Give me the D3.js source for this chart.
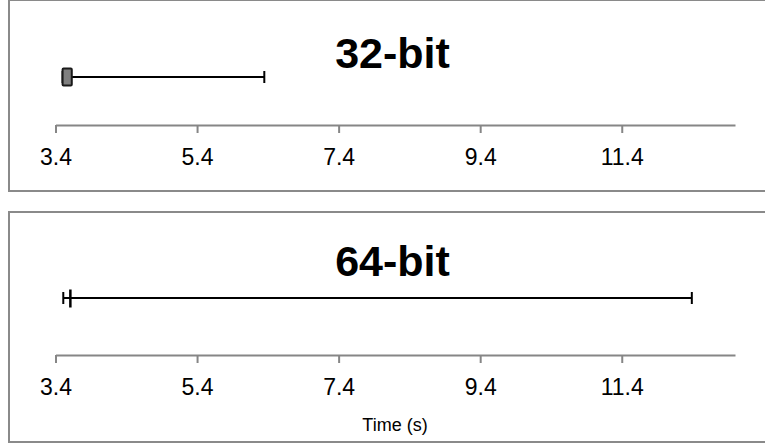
<!DOCTYPE html>
<html>
<head>
<meta charset="utf-8">
<script src="https://cdn.jsdelivr.net/npm/d3@7"></script>
<style>
  body { margin: 0; background: #fff; }
  text { font-family: "Liberation Sans", Arial, sans-serif; fill: #000; }
</style>
</head>
<body>
<div id="chart"></div>
<script>
// values (seconds)
const builds = ["32-bit", "64-bit"];
const lowWhisker = [3.50, 3.51];
const boxLow = [3.50, 3.61];
const boxHigh = [3.63, 3.61];
const highWhisker = [6.35, 12.39];
const tickValues = [3.4, 5.4, 7.4, 9.4, 11.4];
const axisMin = 3.4, axisMax = 13.0;

let width = 765, height = 444;

// each panel is its own little chart frame
const panels = [
  { top: 0,   bottom: 191, title: 68,  whisker: 77,  axis: 125, xTitle: null },
  { top: 212, bottom: 442, title: 276, whisker: 298, axis: 355, xTitle: "Time (s)" }
];

const svg = d3.select("#chart")
  .append("svg")
  .attr("width", width)
  .attr("height", height);

let x = d3.scaleLinear()
  .domain([axisMin, axisMax])
  .range([55.5, 735]);

builds.forEach((name, i) => {
  let p = panels[i];
  let g = svg.append("g");

  // frame - right edge runs off the page
  g.append("rect")
    .attr("x", 9)
    .attr("y", p.top)
    .attr("width", 800)
    .attr("height", p.bottom - p.top)
    .attr("fill", "none")
    .attr("stroke", "#8a8a8a")
    .attr("stroke-width", 2);

  g.append("text")
    .text(name)
    .attr("x", 392.5)
    .attr("y", p.title)
    .attr("text-anchor", "middle")
    .style("font-size", "43px")
    .style("font-weight", "bold");

  // axis
  let ax = g.append("g")
    .attr("transform", `translate(0,${p.axis})`)
    .call(d3.axisBottom(x)
      .tickValues(tickValues)
      .tickFormat(d3.format(".1f"))
      .tickSizeOuter(0)
      .tickSizeInner(8)
      .tickPadding(16));
  ax.select(".domain").attr("stroke", "#868686").attr("stroke-width", 2);
  ax.selectAll(".tick line").attr("stroke", "#868686").attr("stroke-width", 2);
  ax.selectAll(".tick text")
    .attr("fill", "#000")
    .style("font-size", "23px")
    .style("font-family", "'Liberation Sans', Arial, sans-serif");

  if (p.xTitle) {
    g.append("text")
      .text(p.xTitle)
      .attr("x", 395)
      .attr("y", 431)
      .attr("text-anchor", "middle")
      .style("font-size", "18px");
  }

  // whisker line
  let y = p.whisker;
  g.append("line")
    .attr("x1", x(lowWhisker[i]))
    .attr("x2", x(highWhisker[i]))
    .attr("y1", y).attr("y2", y)
    .attr("stroke", "#000")
    .attr("stroke-width", 2);

  // end caps
  [lowWhisker[i], highWhisker[i]].forEach(v => {
    g.append("line")
      .attr("x1", x(v)).attr("x2", x(v))
      .attr("y1", y - 6).attr("y2", y + 6)
      .attr("stroke", "#000")
      .attr("stroke-width", 2);
  });

  // box (collapses to a bar when both quartiles match)
  let bw = x(boxHigh[i]) - x(boxLow[i]);
  if (bw > 1) {
    g.append("rect")
      .attr("x", x(boxLow[i]))
      .attr("y", y - 8.5)
      .attr("width", bw)
      .attr("height", 17)
      .attr("rx", 1)
      .attr("fill", "#7f7f7f")
      .attr("stroke", "#1a1a1a")
      .attr("stroke-width", 2);
  } else {
    g.append("line")
      .attr("x1", x(boxLow[i])).attr("x2", x(boxLow[i]))
      .attr("y1", y - 8.5).attr("y2", y + 9.5)
      .attr("stroke", "#000")
      .attr("stroke-width", 2.5);
  }
});
</script>
</body>
</html>
